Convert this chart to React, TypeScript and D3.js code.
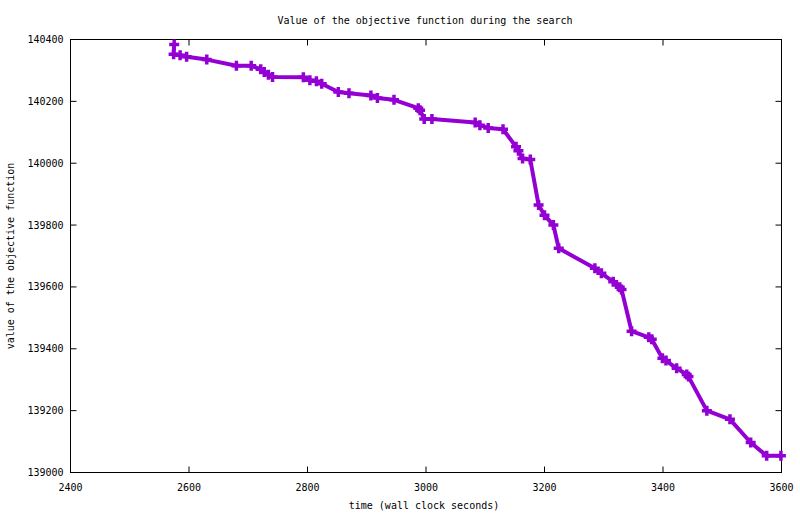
import * as d3 from 'd3'
import { useEffect } from 'react'

// wall clock seconds for each improvement found
const times = [
  2575, 2574, 2585, 2596, 2630, 2680, 2705, 2721, 2727, 2734, 2741, 2793, 2804,
  2815, 2824, 2852, 2870, 2907, 2918, 2946, 2987, 2990, 2997, 3010, 3083, 3091,
  3105, 3130, 3152, 3156, 3163, 3176, 3190, 3200, 3215, 3224, 3285, 3296, 3316,
  3327, 3330, 3347, 3376, 3381, 3399, 3405, 3423, 3440, 3443, 3474, 3513, 3548,
  3575, 3599,
]
const values = [
  140384, 140352, 140349, 140344, 140335, 140315, 140315, 140304, 140295,
  140286, 140279, 140278, 140268, 140265, 140257, 140230, 140226, 140219,
  140211, 140205, 140178, 140171, 140143, 140143, 140132, 140123, 140114,
  140110, 140053, 140040, 140015, 140012, 139865, 139832, 139800, 139725,
  139660, 139644, 139617, 139599, 139592, 139457, 139437, 139431, 139369,
  139362, 139337, 139317, 139310, 139200, 139172, 139097, 139054, 139054,
]
const xTicks = [2400, 2600, 2800, 3000, 3200, 3400, 3600]
const yTicks = [139000, 139200, 139400, 139600, 139800, 140000, 140200, 140400]

const W = 800
const H = 514
const color = '#9400d3'
const font = '"DejaVu Sans Mono", monospace'

export default function App() {
  useEffect(() => {
    document.body.style.margin = '0'
  }, [])

  const margin = { top: 39.5, right: 18.5, bottom: 41.5, left: 70.5 }
  const x = d3
    .scaleLinear()
    .domain([2400, 3600])
    .range([margin.left, W - margin.right])
  const y = d3
    .scaleLinear()
    .domain([139000, 140400])
    .range([H - margin.bottom, margin.top])

  const pts = times.map((t, i) => [t, values[i]] as [number, number])
  const line = d3
    .line<[number, number]>()
    .x(d => x(d[0]))
    .y(d => y(d[1]))

  const x0 = x.range()[0]
  const x1 = x.range()[1]
  const y0 = y.range()[0]
  const y1 = y.range()[1]

  return (
    <svg width={W} height={H} style={{ display: 'block', background: '#fff' }}>
      {/* title */}
      <text x={425} y={24} textAnchor="middle" fontFamily={font} fontSize={10}>
        Value of the objective function during the search
      </text>
      {/* axis titles */}
      <text
        transform={`translate(14,${(y0 + y1) / 2}) rotate(-90)`}
        textAnchor="middle"
        fontFamily={font}
        fontSize={10}
      >
        value of the objective function
      </text>
      <text x={(x0 + x1) / 2 - 2} y={509} textAnchor="middle" fontFamily={font} fontSize={10}>
        time (wall clock seconds)
      </text>
      {/* y ticks */}
      {yTicks.map(t => (
        <g key={t}>
          <line x1={x0} x2={x0 + 6} y1={y(t)} y2={y(t)} stroke="#000" />
          <line x1={x1} x2={x1 - 6} y1={y(t)} y2={y(t)} stroke="#000" />
          <text
            x={x0 - 7}
            y={y(t)}
            dy="0.35em"
            textAnchor="end"
            fontFamily={font}
            fontSize={10}
          >
            {t}
          </text>
        </g>
      ))}
      {/* x ticks */}
      {xTicks.map(t => (
        <g key={t}>
          <line x1={x(t)} x2={x(t)} y1={y0} y2={y0 - 6} stroke="#000" />
          <line x1={x(t)} x2={x(t)} y1={y1} y2={y1 + 6} stroke="#000" />
          <text
            x={x(t)}
            y={y0 + 18}
            textAnchor="middle"
            fontFamily={font}
            fontSize={10}
          >
            {t}
          </text>
        </g>
      ))}
      <rect
        x={x0}
        y={y1}
        width={x1 - x0}
        height={y0 - y1}
        fill="none"
        stroke="#000"
      />
      {/* series */}
      <path
        d={line(pts) ?? ''}
        fill="none"
        stroke={color}
        strokeWidth={4}
        strokeLinejoin="round"
      />
      {pts.map((p, i) => (
        <path
          key={i}
          d={`M${x(p[0]) - 5},${y(p[1])}h10M${x(p[0])},${y(p[1]) - 5}v10`}
          stroke={color}
          strokeWidth={3.5}
          fill="none"
        />
      ))}
    </svg>
  )
}
